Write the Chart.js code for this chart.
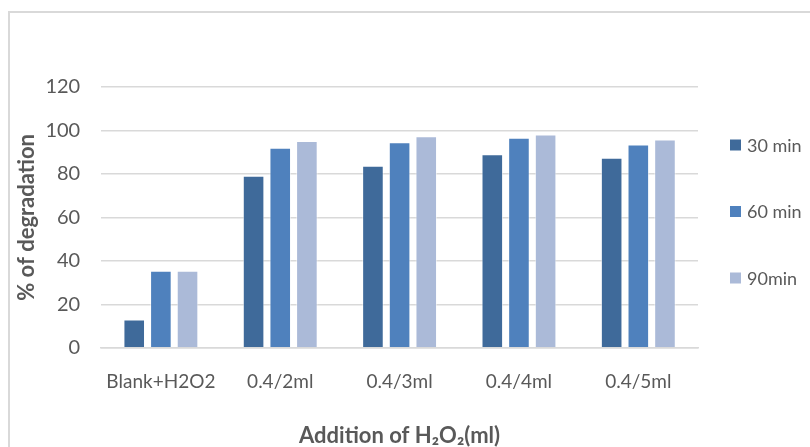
<!DOCTYPE html>
<html>
<head>
<meta charset="utf-8">
<script src="https://cdn.jsdelivr.net/npm/chart.js@4"></script>
<style>
  html, body { margin: 0; padding: 0; background: #fff; overflow: hidden; }
  #wrap { position: relative; width: 810px; height: 447px; }
  #frame { position: absolute; left: 8px; top: 11px; width: 900px; height: 600px;
           border-left: 2px solid #D9D9D9; border-top: 2px solid #D9D9D9; box-sizing: border-box; }
  canvas { position: absolute; left: 0; top: 0; }
</style>
</head>
<body>
<div id="wrap">
  <div id="frame"></div>
  <canvas id="c" width="810" height="447"></canvas>
</div>
<script>
// Degradation (%) for each H2O2 addition, measured at three contact times
const categories = ['Blank+H2O2', '0.4/2ml', '0.4/3ml', '0.4/4ml', '0.4/5ml'];
const seriesNames = ['30 min', '60 min', '90min'];
const min30 = [13, 79.2, 83.8, 89.0, 87.5];
const min60 = [35.5, 92.1, 94.6, 96.7, 93.6];
const min90 = [35.5, 95.2, 97.3, 98.2, 95.8];
const yTicks = [0, 20, 40, 60, 80, 100, 120];

const colors = ['#3F6A9A', '#4F81BD', '#ABBAD8'];
const FONT = 'Lato, "Open Sans", sans-serif';
const TEXT = '#595959';

const datasets = [min30, min60, min90].map((vals, i) => ({
  label: seriesNames[i],
  data: vals,
  backgroundColor: colors[i],
  borderColor: 'rgba(255,255,255,0.55)',
  borderWidth: 1,
  categoryPercentage: 0.67,
  barPercentage: 0.81
}));

// Vertical legend drawn to the right of the plot area
const sideLegend = {
  id: 'sideLegend',
  afterDraw(chart) {
    const ctx = chart.ctx;
    const x = 730, y0 = 145, step = 66.5, box = 11;
    ctx.save();
    ctx.font = '18px ' + FONT;
    ctx.textBaseline = 'middle';
    ctx.textAlign = 'left';
    chart.data.datasets.forEach((ds, i) => {
      const y = y0 + i * step;
      ctx.fillStyle = ds.backgroundColor;
      ctx.fillRect(x, y - box / 2, box, box);
      ctx.fillStyle = TEXT;
      ctx.fillText(ds.label, x + box + 6, y + 1);
    });
    ctx.restore();
  }
};

new Chart(document.getElementById('c'), {
  type: 'bar',
  data: { labels: categories, datasets },
  plugins: [sideLegend],
  options: {
    responsive: false,
    animation: false,
    devicePixelRatio: 1,
    layout: { padding: { left: 14, top: 87, right: 112, bottom: -2 } },
    plugins: {
      tooltip: { enabled: false },
      legend: { display: false }
    },
    scales: {
      x: {
        grid: { display: true, drawOnChartArea: false, drawTicks: true, tickLength: 20, tickColor: 'rgba(0,0,0,0)' },
        border: { display: true, color: '#D9D9D9', width: 1.5 },
        ticks: { color: TEXT, font: { family: FONT, size: 19 }, padding: 3, maxRotation: 0 },
        title: {
          display: true,
          text: 'Addition of H\u2082O\u2082(ml)',
          color: TEXT,
          font: { family: FONT, size: 22, weight: 'bold' },
          padding: { top: 26, bottom: 0 }
        }
      },
      y: {
        min: 0,
        max: 120,
        afterBuildTicks: (axis) => { axis.ticks = yTicks.map(v => ({ value: v })); },
        grid: { color: '#D9D9D9', lineWidth: 1.5, drawTicks: false },
        border: { display: false },
        ticks: { color: TEXT, font: { family: FONT, size: 20 }, padding: 21 },
        title: {
          display: true,
          text: '% of degradation',
          color: TEXT,
          font: { family: FONT, size: 22, weight: 'bold' },
          padding: { top: 0, bottom: -16 }
        }
      }
    }
  }
});
</script>
</body>
</html>
